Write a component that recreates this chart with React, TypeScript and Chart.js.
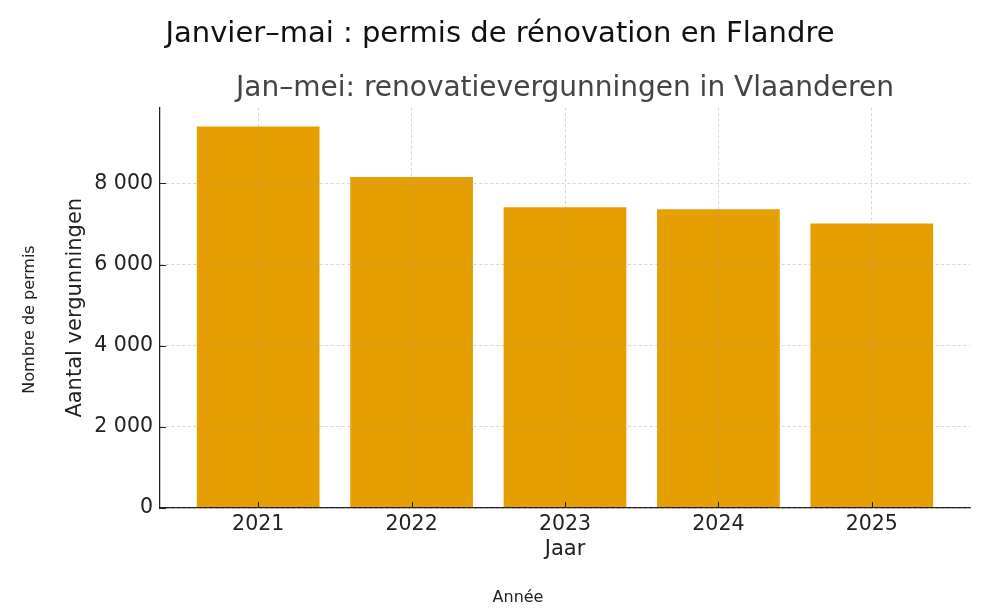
import React, { useEffect, useRef } from 'react';
import { Chart, registerables } from 'chart.js';

Chart.register(...registerables);

// data
const years = ['2021', '2022', '2023', '2024', '2025'];
const permits = [9400, 8160, 7410, 7360, 7010];
const yTickValues = [0, 2000, 4000, 6000, 8000];

const mainTitle = 'Janvier–mai : permis de rénovation en Flandre';
const subTitle = 'Jan–mei: renovatievergunningen in Vlaanderen';
const yTitleNl = 'Aantal vergunningen';
const xTitleNl = 'Jaar';
const yTitleFr = 'Nombre de permis';
const xTitleFr = 'Année';

const FONT = '"DejaVu Sans", Verdana, sans-serif';
const TEXT = '#222222';

const formatThousands = (v: number) =>
  String(v).replace(/\B(?=(\d{3})+(?!\d))/g, ' ');

// short tick marks pointing into the plot, like matplotlib "direction: in"
const innerTicks = {
  id: 'innerTicks',
  afterDraw(chart: any) {
    const { ctx, chartArea, scales } = chart;
    const x = scales.x;
    const y = scales.y;
    ctx.save();
    ctx.strokeStyle = TEXT;
    ctx.lineWidth = 1;
    ctx.beginPath();
    x.ticks.forEach((t: any) => {
      const px = Math.round(x.getPixelForValue(t.value)) + 0.5;
      ctx.moveTo(px, chartArea.bottom);
      ctx.lineTo(px, chartArea.bottom - 6);
    });
    y.ticks.forEach((t: any) => {
      const py = Math.round(y.getPixelForValue(t.value)) + 0.5;
      ctx.moveTo(chartArea.left, py);
      ctx.lineTo(chartArea.left + 6, py);
    });
    ctx.stroke();
    ctx.restore();
  },
};

// the outer (French) axis labels sit outside the axes
const outerLabels = {
  id: 'outerLabels',
  afterDraw(chart: any) {
    const { ctx } = chart;
    ctx.save();
    ctx.fillStyle = TEXT;
    ctx.font = `16px ${FONT}`;
    ctx.textAlign = 'center';
    ctx.textBaseline = 'middle';
    ctx.fillText(xTitleFr, 518, 597.5);
    ctx.translate(30.3, 319.5);
    ctx.rotate(-Math.PI / 2);
    ctx.fillText(yTitleFr, 0, 0);
    ctx.restore();
  },
};

const PermitsChart: React.FC = () => {
  const canvasRef = useRef<HTMLCanvasElement>(null);
  const chartRef = useRef<Chart | null>(null);

  useEffect(() => {
    if (!canvasRef.current) return;
    if (chartRef.current) chartRef.current.destroy();

    const yMax = Math.max(...permits) * 1.05;
    const xPad = 0.64;

    // grid sits on top of the bars, as in the reference
    const gridStyle = {
      color: 'rgba(160,160,160,0.55)',
      lineWidth: 0.8,
      drawTicks: false,
      offset: false,
      z: 1,
    };
    const borderStyle = { display: true, color: TEXT, width: 1.25, dash: [3, 2.5], z: 2 };

    chartRef.current = new Chart(canvasRef.current, {
      type: 'bar',
      data: {
        datasets: [
          {
            label: yTitleNl,
            data: permits.map((v, i) => ({ x: i, y: v })),
            backgroundColor: '#E69F00',
            borderWidth: 0,
            barPercentage: 0.8,
            categoryPercentage: 1,
          },
        ],
      },
      options: {
        animation: false,
        responsive: true,
        maintainAspectRatio: false,
        layout: { padding: { left: 30, right: 30, top: 0, bottom: 0 } },
        plugins: {
          legend: { display: false },
          tooltip: { enabled: false },
          title: {
            display: true,
            text: mainTitle,
            color: '#111111',
            font: { family: FONT, size: 29, weight: 'normal' },
            padding: { top: 17.3, bottom: 0 },
          },
          subtitle: {
            display: true,
            text: subTitle,
            color: '#444444',
            fullSize: false,
            font: { family: FONT, size: 28, weight: 'normal' },
            padding: { top: 19.5, bottom: 2.3 },
          },
        },
        scales: {
          x: {
            type: 'linear',
            offset: false,
            min: -xPad,
            max: years.length - 1 + xPad,
            afterBuildTicks: (scale: any) => {
              scale.ticks = years.map((_, i) => ({ value: i }));
            },
            afterFit: (scale: any) => {
              scale.height = 107;
            },
            grid: gridStyle,
            border: borderStyle,
            ticks: {
              color: TEXT,
              padding: 4,
              font: { family: FONT, size: 20.5 },
              callback: (v: any) => years[v as number] ?? '',
            },
            title: {
              display: true,
              text: xTitleNl,
              color: TEXT,
              font: { family: FONT, size: 21 },
              padding: { top: 0, bottom: 53 },
            },
          },
          y: {
            type: 'linear',
            min: 0,
            max: yMax,
            afterBuildTicks: (scale: any) => {
              scale.ticks = yTickValues.map((v) => ({ value: v }));
            },
            afterFit: (scale: any) => {
              scale.width = 130;
            },
            grid: gridStyle,
            border: borderStyle,
            ticks: {
              color: TEXT,
              padding: 7,
              font: { family: FONT, size: 20.5 },
              callback: (v: any) => formatThousands(v as number),
            },
            title: {
              display: true,
              text: yTitleNl,
              color: TEXT,
              font: { family: FONT, size: 21 },
              padding: { top: 33, bottom: 0 },
            },
          },
        },
      },
      plugins: [innerTicks, outerLabels],
    } as any);

    return () => {
      if (chartRef.current) {
        chartRef.current.destroy();
        chartRef.current = null;
      }
    };
  }, []);

  return <canvas ref={canvasRef} />;
};

export default function App() {
  return (
    <div
      style={{
        position: 'fixed',
        left: 0,
        top: 0,
        width: 1000,
        height: 615,
        background: '#ffffff',
      }}
    >
      <PermitsChart />
    </div>
  );
}
